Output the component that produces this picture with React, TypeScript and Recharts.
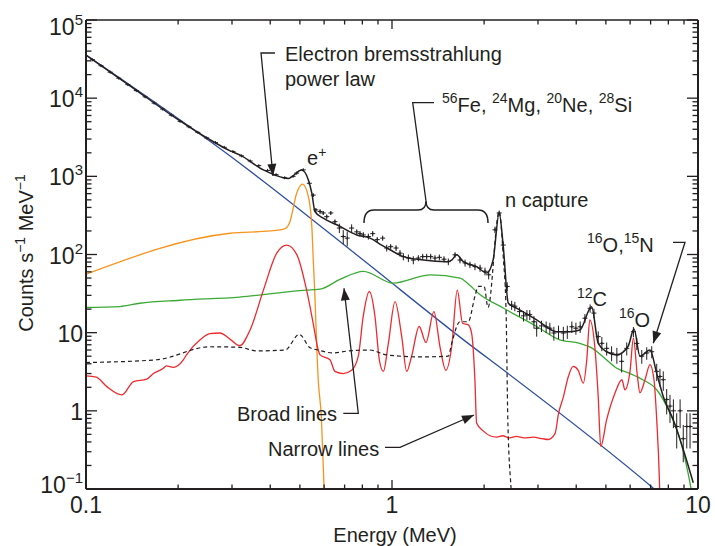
import React from "react";
import { ComposedChart, Line, Scatter, ErrorBar, XAxis, YAxis } from "recharts";

const FONT = "'Liberation Sans', Arial, Helvetica, sans-serif";
const INK = "#231f20";
const BLUE = "#2f4f9f";
const ORANGE = "#f7941d";
const GREEN = "#3aaa35";
const RED = "#ee2a2e";

// energy in MeV, counts s^-1 MeV^-1
const powerLawE = [0.1, 0.318, 0.375, 0.805, 1.8, 2.09, 7.13, 8];
const powerLawC = [35600, 1470, 900, 85, 6.98, 4.49, 0.103, 0.07];

const positronE = [0.1, 0.296, 0.4, 0.447, 0.464, 0.488, 0.51, 0.533, 0.547, 0.553, 0.557, 0.574, 0.588, 0.6, 0.62];
const positronC = [56, 187, 200, 215, 263, 608, 795, 550, 229, 85, 47, 2.5, 0.8, 0.1, 0.02];

const broadE = [0.1, 0.129, 0.15, 0.203, 0.318, 0.5, 0.582, 0.676, 0.806, 1.009, 1.338, 1.668, 1.8, 1.914, 2.31, 2.97, 3.53, 4.11, 4.52, 4.9, 5.43, 6.0, 6.6, 7.33, 8.1, 8.74, 9.28, 9.6];
const broadC = [21, 21.6, 23.8, 26, 28.5, 34.6, 36, 48, 61, 43, 55, 50, 40, 32, 20.7, 12, 8.1, 7.3, 6.3, 4.9, 3.5, 3.0, 2.5, 1.86, 0.93, 0.43, 0.16, 0.08];

const narrowE = [
  0.1, 0.108, 0.117, 0.131, 0.143, 0.158, 0.166, 0.179, 0.183, 0.193, 0.208, 0.213, 0.236, 0.254, 0.274, 0.296,
  0.318, 0.344, 0.38, 0.42, 0.453, 0.489, 0.526, 0.553, 0.574, 0.582, 0.627, 0.651, 0.693, 0.738, 0.776, 0.805,
  0.843, 0.88, 0.909, 0.937, 0.973, 1.023, 1.076, 1.117, 1.159, 1.227, 1.291, 1.371, 1.435, 1.5, 1.567, 1.634,
  1.701, 1.775, 1.82, 1.866, 1.89, 1.99, 2.09, 2.2, 2.3, 2.42, 2.55, 2.7, 2.9, 3.1, 3.24, 3.41, 3.5, 3.63, 3.77,
  3.91, 4.06, 4.22, 4.33, 4.43, 4.6, 4.72, 4.81, 5.03, 5.36, 5.64, 5.77, 6.0, 6.15, 6.34, 6.46, 6.71, 6.97, 7.18,
  7.33, 7.48, 7.55,
];
const narrowC = [
  2.8, 2.7, 2.04, 1.6, 2.37, 2.55, 3.0, 3.5, 3.76, 3.6, 4.5, 5.2, 8.1, 9.7, 9.9, 8.2,
  6.8, 10.9, 35, 104, 132, 99, 35, 13, 6.0, 5.2, 4.5, 3.2, 3.0, 3.3, 5.0, 16,
  33.6, 16, 4.5, 3.2, 7.3, 25, 8.9, 3.2, 5.0, 12, 7.5, 18.6, 6.6, 3.3, 6.6, 35,
  13.2, 12.6, 9.9, 2.5, 0.7, 0.55, 0.48, 0.46, 0.48, 0.45, 0.47, 0.45, 0.46, 0.44, 0.43, 0.51, 0.92, 1.5, 2.75,
  3.7, 3.3, 2.26, 4.5, 14.6, 6.6, 1.5, 0.35, 0.77, 1.7, 2.5, 1.86, 3.3, 8.5, 2.75, 1.7, 2.5, 3.9, 2.5,
  0.77, 0.13, 0.03,
];

const otherE = [0.1, 0.17, 0.254, 0.318, 0.361, 0.447, 0.498, 0.54, 0.573, 0.642, 0.711, 0.848, 0.958, 1.235, 1.528, 1.567, 1.668, 1.775, 1.866, 1.914, 2.0, 2.06, 2.24, 2.31, 2.36, 2.39, 2.45, 2.5];
const otherC = [4.15, 4.5, 6.6, 6.5, 5.85, 6.0, 9.5, 6.4, 6.0, 5.5, 5.8, 6.0, 5.2, 4.9, 5.0, 7.3, 13.8, 13.8, 29, 39, 39, 21, 355, 93, 18, 0.8, 0.1, 0.03];

const fitE = [0.1, 0.14, 0.2, 0.25, 0.296, 0.318, 0.38, 0.414, 0.458, 0.507, 0.533, 0.547, 0.56, 0.596, 0.66, 0.767, 0.848, 0.925, 0.985, 1.089, 1.266, 1.51, 1.567, 1.627, 1.71, 1.89, 2.04, 2.14, 2.24, 2.31, 2.4, 2.56, 2.97, 3.45, 3.82, 4.11, 4.49, 4.72, 5.03, 5.42, 5.91, 6.18, 6.46, 6.97, 7.33, 7.71, 8.3, 8.95, 9.65];
const fitC = [35600, 14200, 5300, 3050, 2120, 1880, 1208, 1042, 940, 1208, 900, 608, 355, 291, 240, 178, 162, 132, 115, 94, 85, 81, 85, 99, 81, 70, 58, 85, 340, 126, 23.8, 20.5, 14.6, 10.3, 10.3, 10.8, 21.4, 7.3, 5.7, 5.2, 6.7, 11.1, 5.0, 6.0, 3.0, 1.5, 0.77, 0.32, 0.12];

const pointE = [
  0.105, 0.112, 0.12, 0.128, 0.137, 0.146, 0.156, 0.167, 0.178, 0.19, 0.203, 0.217, 0.232, 0.248, 0.265, 0.283,
  0.302, 0.322, 0.344, 0.367, 0.392, 0.418, 0.446, 0.475, 0.488, 0.513, 0.537, 0.553, 0.564, 0.582, 0.596, 0.612,
  0.631, 0.651, 0.673, 0.693, 0.714, 0.738, 0.767, 0.786, 0.806, 0.837, 0.865, 0.895, 0.932, 0.961, 0.99, 1.031,
  1.062, 1.089, 1.131, 1.174, 1.219, 1.26, 1.298, 1.338, 1.382, 1.428, 1.479, 1.528, 1.607, 1.668, 1.733, 1.798,
  1.867, 1.94, 2.013, 2.07, 2.17, 2.24, 2.31, 2.38, 2.46, 2.52, 2.61, 2.69, 2.76, 2.82, 2.91, 2.97, 3.08, 3.19,
  3.28, 3.38, 3.5, 3.63, 3.74, 3.87, 3.99, 4.12, 4.27, 4.44, 4.57, 4.72, 4.85, 5.03, 5.22, 5.43, 5.63, 5.85, 6.15,
  6.31, 6.55, 6.8, 7.06, 7.33, 7.51, 7.7, 7.9, 8.1, 8.31, 8.52, 8.74, 8.95, 9.19, 9.42,
];
const pointC = [
  31000, 26000, 21500, 18000, 14900, 12500, 10400, 8650, 7250, 6060, 5050, 4300, 3650, 3100, 2700, 2350,
  2080, 1830, 1570, 1370, 1190, 1050, 960, 1000, 1100, 1208, 815, 575, 372, 355, 340, 305,
  340, 263, 218, 170, 162, 218, 195, 185, 178, 170, 185, 155, 162, 121, 126, 121,
  104, 94, 90, 85, 90, 94, 94, 94, 90, 92, 87, 81, 99, 85, 78, 74,
  70, 67, 61, 55, 207, 340, 132, 39, 22.6, 21.8, 18.6, 16.4, 17, 17, 13.8, 11.4, 12.2, 11.9,
  11.4, 9.9, 10.3, 9.9, 10.3, 11.9, 11.4, 11.9, 15.3, 20.5, 17.8, 8.9, 7.3, 6.3, 5.5, 5.2, 4.3, 6.3, 10.3,
  7.3, 5.0, 5.5, 5.7, 3.2, 2.75, 2.5, 1.4, 1.15, 1.0, 0.63, 1.0, 0.44, 0.63, 0.63,
];
const pointErr = [
  600, 500, 400, 350, 300, 250, 200, 160, 130, 110, 100, 80, 70, 60, 50, 45,
  40, 36, 31, 27, 23, 21, 19, 20, 40, 45, 35, 30, 20, 25, 20, 20,
  20, 18, 30, 35, 35, 25, 15, 15, 15, 15, 15, 12, 12, 12, 10, 10,
  10, 10, 10, 10, 8, 8, 8, 8, 8, 8, 8, 8, 8, 8, 8, 7,
  7, 7, 7, 7, 20, 25, 15, 5, 3, 3, 2.5, 2.5, 2.5, 2.5, 2.5, 2.5, 2, 2,
  2, 2, 2, 2, 2, 2, 2, 2, 2, 2.5, 2.5, 1.5, 1.5, 1.2, 1.2, 1.2, 1.2, 1.2, 1.5,
  1.3, 1.0, 1.0, 1.0, 0.8, 0.7, 0.7, 0.5, 0.45, 0.4, 0.3, 0.4, 0.22, 0.3, 0.3,
];

// axis ticks
const xTicks = [0.1, 0.2, 0.3, 0.4, 0.5, 0.6, 0.7, 0.8, 0.9, 1, 2, 3, 4, 5, 6, 7, 8, 9, 10];
const xLabelValues = [0.1, 1, 10];
const xLabelText = ["0.1", "1", "10"];
const yDecades = [0.1, 1, 10, 100, 1000, 10000];
const yMinorSteps = [1, 2, 3, 4, 5, 6, 7, 8, 9];
const yTicks = [...yDecades.flatMap((d) => yMinorSteps.map((m) => +(d * m).toPrecision(3))), 100000];
const yLabelValues = [0.1, 1, 10, 100, 1000, 10000, 100000];
const yLabelBase = ["10", "1", "10", "10", "10", "10", "10"];
const yLabelExp = ["\u22121", "", "", "2", "3", "4", "5"];

const rows = (e: number[], c: number[]) => e.map((x, i) => ({ e: x, v: c[i] }));
const pointRows = pointE.map((x, i) => ({ e: x, v: pointC[i], err: pointErr[i] }));

const isMajor = (v: number) => Math.abs(Math.log10(v) - Math.round(Math.log10(v))) < 1e-6;
const findIdx = (arr: number[], v: number) => arr.findIndex((t) => Math.abs(t - v) / t < 1e-6);

function BottomTick({ x, y, payload }: any) {
  const v = payload.value;
  const i = findIdx(xLabelValues, v);
  return (
    <g>
      <line x1={x} x2={x} y1={y} y2={y - (isMajor(v) ? 9 : 4.5)} stroke={INK} strokeWidth={1.3} />
      {i >= 0 && (
        <text x={x} y={y + 24} textAnchor="middle" fontSize={23} fill={INK} fontFamily={FONT}>
          {xLabelText[i]}
        </text>
      )}
    </g>
  );
}

function TopTick({ x, y, payload }: any) {
  return <line x1={x} x2={x} y1={y} y2={y + (isMajor(payload.value) ? 9 : 4.5)} stroke={INK} strokeWidth={1.3} />;
}

function LeftTick({ x, y, payload }: any) {
  const v = payload.value;
  const i = findIdx(yLabelValues, v);
  const shift = v >= 100000 ? 15 : v <= 0.1 ? 4 : 9;
  return (
    <g>
      <line x1={x} x2={x + (isMajor(v) ? 11 : 5.5)} y1={y} y2={y} stroke={INK} strokeWidth={1.3} />
      {i >= 0 && (
        <text x={x - 3} y={y + shift} textAnchor="end" fontSize={23} fill={INK} fontFamily={FONT}>
          <tspan>{yLabelBase[i]}</tspan>
          {yLabelExp[i] && (
            <tspan dy={-10} fontSize={15}>
              {yLabelExp[i]}
            </tspan>
          )}
        </text>
      )}
    </g>
  );
}

function RightTick({ x, y, payload }: any) {
  return <line x1={x} x2={x - (isMajor(payload.value) ? 11 : 5.5)} y1={y} y2={y} stroke={INK} strokeWidth={1.3} />;
}

function Cross({ cx, cy }: any) {
  return <path d={`M${cx - 2.5},${cy}H${cx + 2.5}M${cx},${cy - 1.5}V${cy + 1.5}`} stroke={INK} strokeWidth={1} />;
}

// text with superscripts: parts = [text, isSup]
function Rich({ x, y, parts, size = 20, anchor = "start", rotate = false }: any) {
  let up = false;
  return (
    <text
      x={x}
      y={y}
      fontSize={size}
      fontFamily={FONT}
      fill={INK}
      textAnchor={anchor}
      style={{ whiteSpace: "pre" }}
      transform={rotate ? `rotate(-90 ${x} ${y})` : undefined}
    >
      {parts.map(([t, s]: [string, boolean], i: number) => {
        const dy = s && !up ? -size * 0.42 : !s && up ? size * 0.42 : 0;
        up = s;
        return (
          <tspan key={i} dy={dy} fontSize={s ? size * 0.7 : size}>
            {t}
          </tspan>
        );
      })}
    </text>
  );
}

function Leader({ pts }: { pts: number[][] }) {
  const [tx, ty] = pts[pts.length - 1];
  const [px, py] = pts[pts.length - 2];
  const a = Math.atan2(ty - py, tx - px);
  const L = 12;
  const W = 4.5;
  const bx = tx - L * Math.cos(a);
  const by = ty - L * Math.sin(a);
  const head = [
    [tx, ty],
    [bx + W * Math.sin(a), by - W * Math.cos(a)],
    [bx - W * Math.sin(a), by + W * Math.cos(a)],
  ];
  return (
    <g>
      <polyline points={pts.map((p) => p.join(",")).join(" ")} fill="none" stroke={INK} strokeWidth={1.3} />
      <polygon points={head.map((p) => p.join(",")).join(" ")} fill={INK} />
    </g>
  );
}

export default function App() {
  return (
    <div style={{ position: "absolute", left: 0, top: 0, width: 715, height: 546, background: "#fff" }}>
      <ComposedChart width={715} height={546} margin={{ top: 0, right: 0, bottom: 0, left: 0 }}>
        <XAxis
          dataKey="e"
          type="number"
          scale="log"
          domain={[0.1, 10]}
          allowDataOverflow
          ticks={xTicks}
          interval={0}
          tick={<BottomTick />}
          tickLine={false}
          tickSize={0}
          tickMargin={0}
          axisLine={{ stroke: INK, strokeWidth: 2 }}
          height={57}
        />
        <XAxis
          xAxisId="top"
          orientation="top"
          dataKey="e"
          type="number"
          scale="log"
          domain={[0.1, 10]}
          allowDataOverflow
          ticks={xTicks}
          interval={0}
          tick={<TopTick />}
          tickLine={false}
          tickSize={0}
          tickMargin={0}
          axisLine={{ stroke: INK, strokeWidth: 1.5 }}
          height={20}
        />
        <YAxis
          type="number"
          scale="log"
          domain={[0.1, 100000]}
          allowDataOverflow
          ticks={yTicks}
          interval={0}
          tick={<LeftTick />}
          tickLine={false}
          tickSize={0}
          tickMargin={0}
          axisLine={{ stroke: INK, strokeWidth: 2 }}
          width={86}
        />
        <YAxis
          yAxisId="right"
          orientation="right"
          type="number"
          scale="log"
          domain={[0.1, 100000]}
          allowDataOverflow
          ticks={yTicks}
          interval={0}
          tick={<RightTick />}
          tickLine={false}
          tickSize={0}
          tickMargin={0}
          axisLine={{ stroke: INK, strokeWidth: 2 }}
          width={17}
        />
        <Line data={rows(powerLawE, powerLawC)} dataKey="v" type="monotone" stroke={BLUE} strokeWidth={1.3} dot={false} isAnimationActive={false} />
        <Line data={rows(positronE, positronC)} dataKey="v" type="monotone" stroke={ORANGE} strokeWidth={1.3} dot={false} isAnimationActive={false} />
        <Line data={rows(broadE, broadC)} dataKey="v" type="monotone" stroke={GREEN} strokeWidth={1.3} dot={false} isAnimationActive={false} />
        <Line data={rows(narrowE, narrowC)} dataKey="v" type="monotone" stroke={RED} strokeWidth={1.3} dot={false} isAnimationActive={false} />
        <Line data={rows(otherE, otherC)} dataKey="v" type="monotone" stroke={INK} strokeWidth={1.2} strokeDasharray="4 3" dot={false} isAnimationActive={false} />
        <Line data={rows(fitE, fitC)} dataKey="v" type="monotone" stroke={INK} strokeWidth={1.5} dot={false} isAnimationActive={false} />
        <Scatter data={pointRows} dataKey="v" shape={<Cross />} isAnimationActive={false}>
          <ErrorBar dataKey="err" direction="y" width={0} stroke={INK} strokeWidth={1} isAnimationActive={false} />
        </Scatter>
      </ComposedChart>

      <svg width={715} height={546} style={{ position: "absolute", left: 0, top: 0, pointerEvents: "none" }}>
        <Rich x={33} y={253} anchor="middle" rotate parts={[["Counts s", false], ["\u22121", true], [" MeV", false], ["\u22121", true]]} />
        <Rich x={395} y={542} anchor="middle" parts={[["Energy (MeV)", false]]} />

        <Rich x={285} y={61} parts={[["Electron bremsstrahlung", false]]} />
        <Rich x={285} y={85.5} parts={[["power law", false]]} />
        <Leader pts={[[275, 53], [261, 53], [273, 176]]} />

        <Rich x={307} y={165} parts={[["e", false], ["+", true]]} />

        <Rich x={442} y={111.7} parts={[["56", true], ["Fe, ", false], ["24", true], ["Mg, ", false], ["20", true], ["Ne, ", false], ["28", true], ["Si", false]]} />
        <polyline points="434,102.7 412.7,102.7 426,201" fill="none" stroke={INK} strokeWidth={1.3} />
        <path d="M364,223 Q364,210 374,210 L418,210 Q426,210 426,201 Q426,210 434,210 L478,210 Q488,210 488,223" fill="none" stroke={INK} strokeWidth={1.5} />

        <Rich x={505} y={206.7} parts={[["n capture", false]]} />

        <Rich x={587} y={251.7} parts={[["16", true], ["O,", false], ["15", true], ["N", false]]} />
        <Leader pts={[[673, 242.3], [685, 242.3], [653.3, 343.3]]} />

        <Rich x={577} y={306} parts={[["12", true], ["C", false]]} />
        <Rich x={619} y={326.7} parts={[["16", true], ["O", false]]} />

        <Rich x={237} y={420.7} parts={[["Broad lines", false]]} />
        <Leader pts={[[343.3, 413.3], [358.3, 413.3], [344, 288.3]]} />

        <Rich x={268} y={455.7} parts={[["Narrow lines", false]]} />
        <Leader pts={[[385, 447.3], [400, 447.3], [474, 415]]} />
      </svg>
    </div>
  );
}
